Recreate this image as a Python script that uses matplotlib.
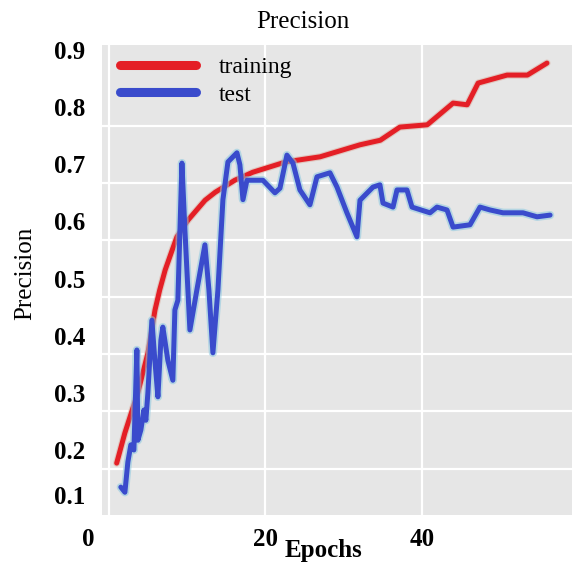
import matplotlib
matplotlib.use('Agg')
import matplotlib.pyplot as plt
import matplotlib.patheffects as pe
from matplotlib.transforms import ScaledTranslation

# ---- data ----
train_epochs = [1.0, 2.05, 3.7, 5.0, 5.9, 6.5, 7.2, 8.1, 8.7, 10.1, 12.3, 13.6, 16.1,
                18.4, 22.6, 27.0, 32.1, 34.7, 37.2, 40.7, 44.0, 45.8, 47.2, 50.9,
                53.5, 56.0]
train_precision = [0.177, 0.230, 0.300, 0.370, 0.445, 0.480, 0.515, 0.550, 0.573,
                   0.602, 0.637, 0.651, 0.672, 0.686, 0.704, 0.713, 0.734, 0.742,
                   0.765, 0.769, 0.807, 0.804, 0.842, 0.856, 0.856, 0.877]

test_epochs = [1.53, 2.05, 2.43, 2.81, 3.2, 3.58, 3.71, 4.09, 4.48, 4.73, 4.99, 5.5,
               5.88, 6.27, 6.65, 6.9, 7.54, 8.18, 8.44, 8.82, 9.34, 9.72, 10.36,
               11.25, 12.28, 12.79, 13.3, 13.94, 14.58, 15.22, 16.37, 16.75, 17.14,
               17.65, 19.69, 21.23, 21.87, 22.76, 23.53, 24.42, 25.7, 26.6, 28.26,
               29.16, 30.43, 31.71, 32.1, 33.76, 34.65, 35.04, 36.32, 36.83, 38.1,
               38.75, 41.05, 41.94, 43.22, 44.0, 46.16, 47.44, 48.72, 50.38, 52.94,
               54.73, 56.4]
test_precision = [0.135, 0.126, 0.179, 0.209, 0.200, 0.375, 0.217, 0.235, 0.270,
                  0.252, 0.300, 0.427, 0.357, 0.293, 0.392, 0.415, 0.357, 0.322,
                  0.445, 0.462, 0.702, 0.585, 0.410, 0.480, 0.559, 0.480, 0.370,
                  0.480, 0.638, 0.704, 0.720, 0.699, 0.638, 0.672, 0.672, 0.650,
                  0.658, 0.716, 0.702, 0.655, 0.629, 0.678, 0.685, 0.660, 0.615,
                  0.573, 0.637, 0.660, 0.664, 0.632, 0.625, 0.655, 0.655, 0.625,
                  0.615, 0.625, 0.620, 0.590, 0.594, 0.625, 0.620, 0.615, 0.615,
                  0.608, 0.611]

x_ticks = [0, 20, 40]
y_ticks = [0.1, 0.2, 0.3, 0.4, 0.5, 0.6, 0.7, 0.8, 0.9]
series_labels = ['training', 'test']

SERIF = 'Liberation Serif'
plt.rcParams['font.family'] = SERIF

fig = plt.figure(figsize=(5.72, 5.62), dpi=100)
ax = fig.add_axes([0.178, 0.0836, 0.822, 0.8364])
ax.set_facecolor('#e6e6e6')
for s in ax.spines.values():
    s.set_visible(False)

ax.plot(train_epochs, train_precision, color='#e41f26', lw=3.6, label=series_labels[0],
        solid_joinstyle='round', solid_capstyle='round',
        path_effects=[pe.Stroke(linewidth=5.2, foreground='#d8a090', alpha=0.45), pe.Normal()])
ax.plot(test_epochs, test_precision, color='#3a4bcc', lw=3.6, label=series_labels[1],
        solid_joinstyle='round', solid_capstyle='round',
        path_effects=[pe.Stroke(linewidth=6.0, foreground='#8cc8e0', alpha=0.55), pe.Normal()])

ax.set_xlim(-0.9, 59.2)
ax.set_ylim(0.0862, 0.9087)
ax.set_xticks(x_ticks)
ax.set_yticks(y_ticks)
ax.set_yticks([v - 0.0326 for v in y_ticks[1:8]], minor=True)
ax.set_yticklabels([f'{v:.1f}' for v in y_ticks])
ax.grid(axis='x', which='major', color='white', lw=1.6)
ax.grid(axis='y', which='minor', color='white', lw=1.6)
ax.grid(axis='y', which='major', visible=False)
ax.set_axisbelow(True)
ax.tick_params(which='both', length=0)
ax.tick_params(axis='y', pad=12, labelsize=18)
ax.tick_params(axis='x', pad=9, labelsize=18)
for lab in ax.get_xticklabels() + ax.get_yticklabels():
    lab.set_fontweight('bold')

# small offsets of individual tick labels as in the reference
xl = ax.get_xticklabels()
xl[0].set_transform(xl[0].get_transform() + ScaledTranslation(-21 / 100, 0, fig.dpi_scale_trans))
yl = ax.get_yticklabels()
yl[0].set_transform(yl[0].get_transform() + ScaledTranslation(0, 12 / 100, fig.dpi_scale_trans))

leg = ax.legend(loc='upper left', bbox_to_anchor=(0.2098, 0.899),
                bbox_transform=fig.transFigure, frameon=False, fontsize=17,
                handlelength=3.2, handletextpad=1.0, labelspacing=0.25,
                borderpad=0, borderaxespad=0)
for ln in leg.get_lines():
    ln.set_linewidth(6.5)
    ln.set_solid_capstyle('round')

fig.text(0.530, 0.961, 'Precision', ha='center', va='center', fontsize=18)
fig.text(0.044, 0.514, 'Precision', ha='center', va='center', fontsize=18, rotation=90)
fig.text(0.566, 0.021, 'Epochs', ha='center', va='center', fontsize=18, fontweight='bold')

fig.savefig('out.png', dpi=100)
